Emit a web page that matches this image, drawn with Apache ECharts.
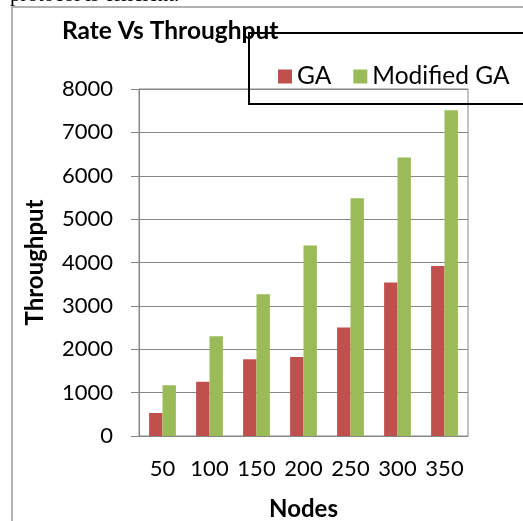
<!DOCTYPE html>
<html>
<head>
<meta charset="utf-8">
<script src="https://cdn.jsdelivr.net/npm/echarts@6/dist/echarts.min.js"></script>
<style>
  html, body { margin: 0; padding: 0; background: #fff; }
  #chart { width: 523px; height: 521px; }
</style>
</head>
<body>
<div id="chart"></div>
<script>
// data
var nodes = ["50", "100", "150", "200", "250", "300", "350"];
var gaValues = [530, 1250, 1770, 1820, 2500, 3540, 3920];
var modifiedGaValues = [1170, 2300, 3270, 4390, 5480, 6420, 7510];
var yTicks = [0, 1000, 2000, 3000, 4000, 5000, 6000, 7000, 8000];

var gray = "#878787";
var font = "Lato";

var myChart = echarts.init(document.getElementById("chart"));
myChart.setOption({
  animation: false,
  color: ["#C0504D", "#9BBB59"],
  title: {
    text: "Rate Vs Throughput",
    left: 57,
    top: 14,
    textStyle: { fontFamily: font, fontSize: 24.5, fontWeight: "bold", color: "#000" }
  },
  legend: {
    left: 273,
    top: 59,
    icon: "rect",
    itemWidth: 14,
    itemHeight: 14,
    itemGap: 22,
    textStyle: { fontFamily: font, fontSize: 24.5, color: "#000" },
    data: ["GA", "Modified GA"]
  },
  grid: {
    left: 139,
    right: 55,
    top: 89,
    bottom: 85,
    outerBoundsMode: "none",
    show: true,
    borderColor: gray,
    borderWidth: 1
  },
  xAxis: {
    type: "category",
    data: nodes,
    name: "Nodes",
    nameLocation: "middle",
    nameGap: 61,
    nameTextStyle: { fontFamily: font, fontSize: 24, fontWeight: "bold", color: "#000" },
    axisLine: { lineStyle: { color: gray, width: 1 } },
    axisTick: { length: 8, lineStyle: { color: gray } },
    axisLabel: { fontFamily: font, fontSize: 22, color: "#000", margin: 22, interval: 0 }
  },
  yAxis: {
    type: "value",
    min: yTicks[0],
    max: yTicks[yTicks.length - 1],
    interval: 1000,
    name: "Throughput",
    nameLocation: "middle",
    nameGap: 92,
    nameTextStyle: { fontFamily: font, fontSize: 24, fontWeight: "bold", color: "#000" },
    axisLine: { show: true, lineStyle: { color: gray, width: 1 } },
    axisTick: { show: true, length: 8, lineStyle: { color: gray } },
    axisLabel: {
      fontFamily: font, fontSize: 22, color: "#000", margin: 26,
      formatter: function(v) { return String(v); }
    },
    splitLine: { lineStyle: { color: gray, width: 1 } }
  },
  series: [
    {
      name: "GA",
      type: "bar",
      data: gaValues,
      barGap: "0%",
      barCategoryGap: "43%"
    },
    {
      name: "Modified GA",
      type: "bar",
      data: modifiedGaValues,
      barGap: "0%",
      barCategoryGap: "43%"
    }
  ],
  graphic: [
    {
      // leftover line of the page text above the figure
      type: "text",
      x: 10,
      y: 6,
      style: {
        text: "protocol is efficient.",
        font: '21px "Liberation Serif"',
        fill: "#000",
        verticalAlign: "bottom"
      }
    },
    {
      // figure frame
      type: "polyline",
      shape: { points: [[12, 521], [12, 7], [523, 7]] },
      style: { stroke: "#999", lineWidth: 1.5, fill: null }
    },
    {
      // legend box, runs off the right edge
      type: "polyline",
      shape: { points: [[560, 33], [249, 33], [249, 104], [560, 104]] },
      style: { stroke: "#000", lineWidth: 2, fill: null },
      z: 100
    }
  ]
});
</script>
</body>
</html>
